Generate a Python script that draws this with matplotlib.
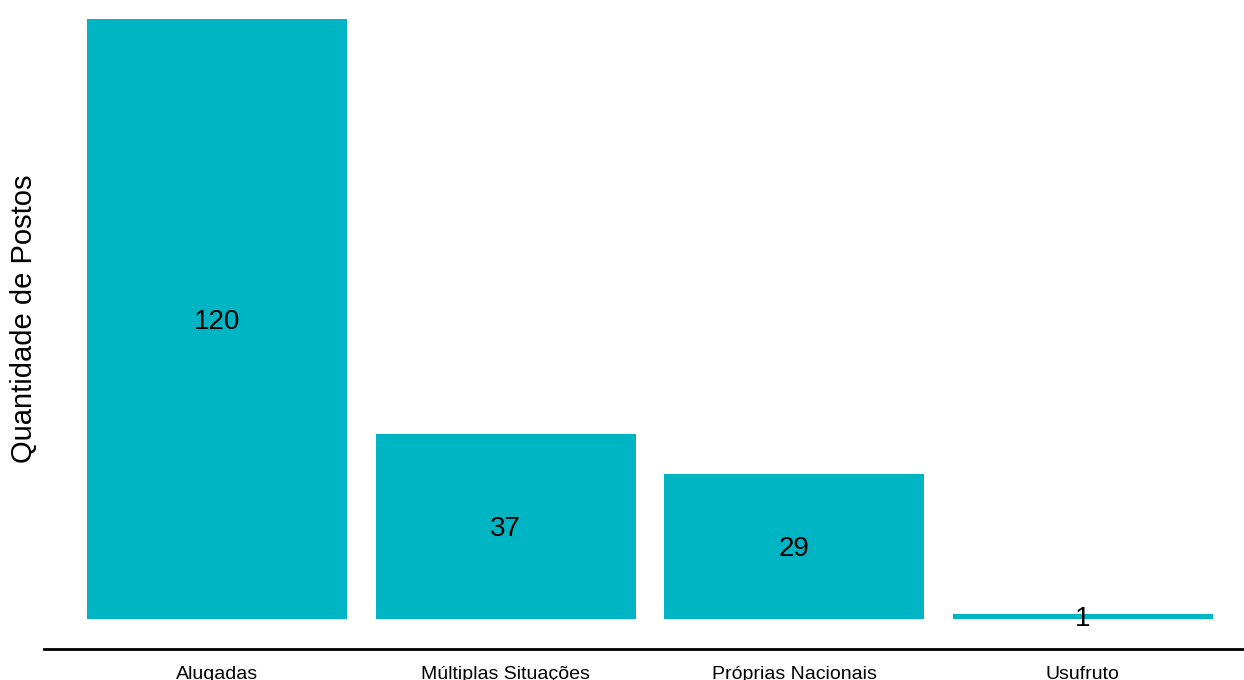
import matplotlib.pyplot as plt

plt.rcParams['font.family'] = ['Liberation Sans', 'DejaVu Sans']

# Postos por situação do imóvel
situacao = ['Alugadas', 'Múltiplas Situações', 'Próprias Nacionais', 'Usufruto']
quantidade = [120, 37, 29, 1]

fig = plt.figure(figsize=(12.44, 6.8), dpi=100)
# painel em pixels: x 44..1256, y de -11 até 649 (a partir do topo)
ax = fig.add_axes([44 / 1244, 1 - 649 / 680, 1212 / 1244, 660 / 680])

x = range(len(situacao))
ax.bar(x, quantidade, width=0.9, color='#00B5C3')

for xi, v in zip(x, quantidade):
    ax.text(xi, v / 2, str(v), ha='center', va='center_baseline', fontsize=20, color='black')

ax.set_xlim(-0.6, len(situacao) - 0.4)
ax.set_ylim(-6, 126)
ax.set_xticks(list(x))
ax.set_xticklabels(situacao, fontsize=14)
ax.tick_params(axis='x', length=0, pad=12)
ax.set_yticks([])
ax.set_ylabel('Quantidade de Postos', fontsize=21, va='center')
ax.yaxis.set_label_coords(-20 / 1212, 0.5)

for side in ['top', 'right', 'left']:
    ax.spines[side].set_visible(False)
ax.spines['bottom'].set_linewidth(2)

fig.savefig('out.png', dpi=100)
